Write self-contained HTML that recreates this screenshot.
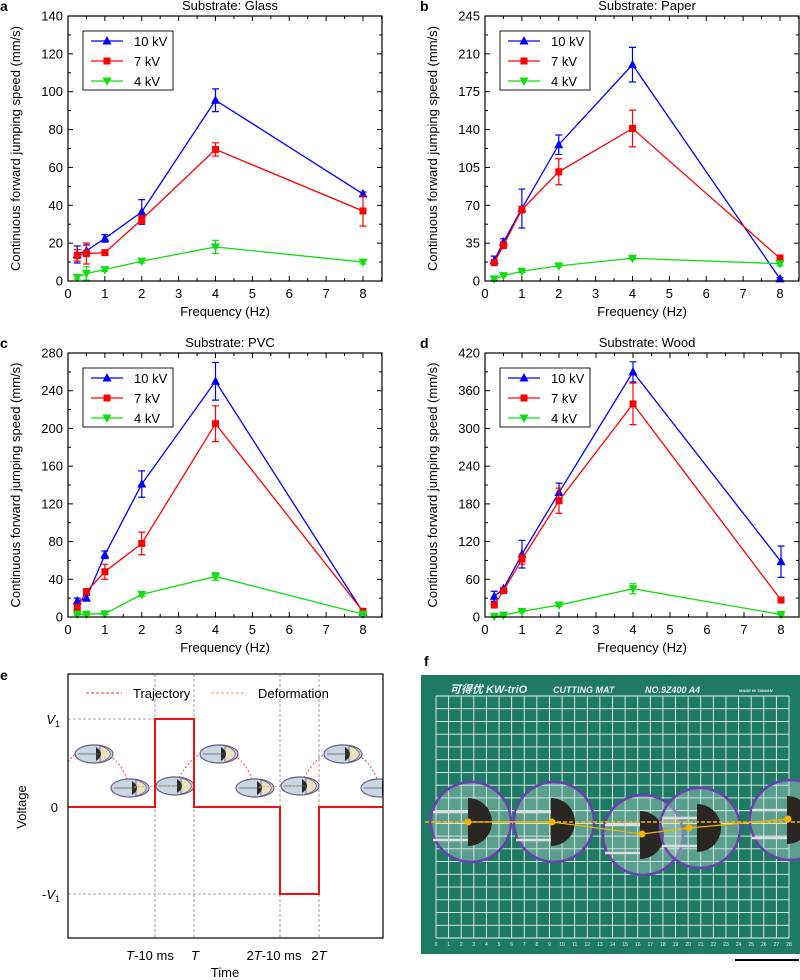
<!DOCTYPE html>
<html><head><meta charset="utf-8"><style>
html,body{margin:0;padding:0;background:#fff;}
svg{display:block;font-family:"Liberation Sans","Noto Sans CJK SC",sans-serif;}
</style></head><body>
<svg id="fig" width="800" height="980" viewBox="0 0 800 980" xmlns="http://www.w3.org/2000/svg">
<defs>
<clipPath id="clipE"><rect x="68" y="674" width="315" height="264"/></clipPath>
<clipPath id="clipF"><rect x="421" y="675" width="379" height="279"/></clipPath>
<g id="robot">
<ellipse cx="0" cy="0" rx="19" ry="9" fill="#c9d7e3" stroke="#6a5a8a" stroke-width="1.2"/>
<path d="M6,-8 A19,9 0 0 1 6,8 Z" fill="#e9e2c0" stroke="#6a5a8a" stroke-width="0.8"/>
<path d="M2,-7 Q12,0 2,7 Z" fill="#2a2a2a"/>
<line x1="-16" y1="0" x2="6" y2="0" stroke="#555" stroke-width="0.8"/>
</g>
</defs>
<g id="charts"></g>

<!-- Panel e -->
<g>
<text x="0" y="680" font-size="14" font-weight="bold">e</text>
<g stroke="#888" stroke-width="0.8" stroke-dasharray="3,2" fill="none">
<line x1="68" y1="719" x2="194" y2="719"/>
<line x1="68" y1="894" x2="319" y2="894"/>
<line x1="155" y1="674" x2="155" y2="938"/>
<line x1="194" y1="674" x2="194" y2="938"/>
<line x1="280" y1="674" x2="280" y2="938"/>
<line x1="319" y1="674" x2="319" y2="938"/>
</g>
<g clip-path="url(#clipE)">
<path d="M68,762 Q80,745 94,752 M94,752 Q120,752 130,788 M175,785 Q195,745 219,752 M219,752 Q245,752 255,788 M300,785 Q320,745 343,752 M343,752 Q370,752 380,788" stroke="#ee3333" stroke-width="0.9" stroke-dasharray="2,2" fill="none"/>
<use href="#robot" x="94" y="754"/>
<use href="#robot" x="219" y="754"/>
<use href="#robot" x="343" y="754"/>
<use href="#robot" x="130" y="788"/>
<use href="#robot" x="175" y="786"/>
<use href="#robot" x="255" y="788"/>
<use href="#robot" x="300" y="786"/>
<use href="#robot" x="380" y="788"/>
<line x1="134" y1="787" x2="175" y2="786" stroke="#f0a060" stroke-width="0.9" stroke-dasharray="2,2"/>
<line x1="259" y1="787" x2="300" y2="786" stroke="#f0a060" stroke-width="0.9" stroke-dasharray="2,2"/>
</g>
<polyline points="68,807 155,807 155,719 194,719 194,807 280,807 280,894 319,894 319,807 383,807" fill="none" stroke="#ee1111" stroke-width="2"/>
<rect x="68" y="674" width="315" height="264" fill="none" stroke="#000" stroke-width="1.2"/>
<g>
<line x1="86" y1="693" x2="122" y2="693" stroke="#ee3333" stroke-dasharray="3,2"/>
<text x="133" y="698" font-size="13">Trajectory</text>
<line x1="211" y1="693" x2="247" y2="693" stroke="#f0a060" stroke-dasharray="3,2"/>
<text x="258" y="698" font-size="13">Deformation</text>
</g>
<text x="60" y="724" font-size="13" text-anchor="end"><tspan font-style="italic">V</tspan><tspan font-size="9" dy="3">1</tspan></text>
<text x="58" y="812" font-size="13" text-anchor="end">0</text>
<text x="60" y="899" font-size="13" text-anchor="end">-<tspan font-style="italic">V</tspan><tspan font-size="9" dy="3">1</tspan></text>
<text transform="translate(26,807) rotate(-90)" font-size="13" text-anchor="middle">Voltage</text>
<g font-size="13" text-anchor="middle">
<text x="150" y="960"><tspan font-style="italic">T</tspan>-10 ms</text>
<text x="195" y="960" font-style="italic">T</text>
<text x="274" y="960">2<tspan font-style="italic">T</tspan>-10 ms</text>
<text x="319" y="960">2<tspan font-style="italic">T</tspan></text>
<text x="225" y="977">Time</text>
</g>
</g>

<!-- Panel f -->
<g>
<text x="424" y="666" font-size="14" font-weight="bold">f</text>
<g clip-path="url(#clipF)">
<rect x="421" y="675" width="379" height="279" fill="#1f7a64"/>
<g id="grid" stroke="#e8f2ee" stroke-width="0.9"></g>
<g font-size="9" font-style="italic" font-weight="bold" fill="#eef">
<text x="450" y="693" font-size="11">可得优 KW-triO</text>
<text x="553" y="693">CUTTING MAT</text>
<text x="645" y="693">NO.9Z400   A4</text>
<text x="739" y="692" font-size="4">MADE IN TAIWAN</text>
</g>
<g id="robotsF"></g>
<line x1="425" y1="822" x2="800" y2="822" stroke="#f4b400" stroke-width="1.4" stroke-dasharray="4,2"/>
<polyline points="468,822 552,822 642,834 689,828 788,819" fill="none" stroke="#f4b400" stroke-width="1.2"/>
<g fill="#f4b400"><circle cx="468" cy="822" r="3.5"/><circle cx="552" cy="822" r="3.5"/><circle cx="642" cy="834" r="3.5"/><circle cx="689" cy="828" r="3.5"/><circle cx="788" cy="819" r="3.5"/></g>
</g>
<line x1="735" y1="960" x2="799" y2="960" stroke="#000" stroke-width="2"/>
</g>
</svg>
<script>
const freqs=[0.25,0.5,1,2,4,8];
const seriesNames=["10 kV","7 kV","4 kV"];
const glass10=[14,16,22.5,36.5,95.5,46], glass10Err=[4.5,3,2,6.5,6,1];
const glass7=[13.5,14.5,15,32.5,69.5,37], glass7Err=[3,5.5,1,2,3.5,8];
const glass4=[2,4,6,10.5,18,10], glass4Err=[1,3.5,1,1,3.5,1];
const paper10=[19,36,67,126,200,2], paper10Err=[4,3,18,9,16,1];
const paper7=[17,33,66,101,141,21], paper7Err=[2,3,3,12,17,3];
const paper4=[2,5,9,14,21,16], paper4Err=[1,1,1,1,1,2];
const pvc10=[17,20,66,141,250,5], pvc10Err=[3,3,4,14,20,1];
const pvc7=[10,27,48,78,205,6], pvc7Err=[3,3,8,12,19,1];
const pvc4=[3,3,3.5,24,43,3], pvc4Err=[1,1,1,2,4,1];
const wood10=[33,45,100,198,390,88], wood10Err=[8,2,22,15,16,25];
const wood7=[19,42,92,185,339,27], wood7Err=[2,2,8,20,33,3];
const wood4=[1,3,9,19,45,4], wood4Err=[1,1,1,2,8,1];
const glassTicks=[0,20,40,60,80,100,120,140];
const paperTicks=[0,35,70,105,140,175,210,245];
const pvcTicks=[0,40,80,120,160,200,240,280];
const woodTicks=[0,60,120,180,240,300,360,420];
const xTicks=[0,1,2,3,4,5,6,7,8];

const NS="http://www.w3.org/2000/svg";
function mk(tag,attrs,parent){const e=document.createElementNS(NS,tag);for(const k in attrs)e.setAttribute(k,attrs[k]);parent.appendChild(e);return e;}
const colors=["#0000ff","#ff0000","#11dd11"];

const panels=[
 {letter:"a",title:"Substrate: Glass",x0:68,x8:363,right:382,top:16,bot:281,ticks:glassTicks,data:[[glass10,glass10Err],[glass7,glass7Err],[glass4,glass4Err]],lx:0},
 {letter:"b",title:"Substrate: Paper",x0:485,x8:780,right:799,top:16,bot:281,ticks:paperTicks,data:[[paper10,paper10Err],[paper7,paper7Err],[paper4,paper4Err]],lx:420},
 {letter:"c",title:"Substrate: PVC",x0:68,x8:363,right:382,top:353,bot:617,ticks:pvcTicks,data:[[pvc10,pvc10Err],[pvc7,pvc7Err],[pvc4,pvc4Err]],lx:0},
 {letter:"d",title:"Substrate: Wood",x0:485,x8:781,right:799,top:353,bot:617,ticks:woodTicks,data:[[wood10,wood10Err],[wood7,wood7Err],[wood4,wood4Err]],lx:420}
];

function marker(g,i,cx,cy){
  let m;
  if(i===0) m=mk("polygon",{points:`${cx},${cy-5} ${cx-4.5},${cy+3.5} ${cx+4.5},${cy+3.5}`,fill:colors[i]},g);
  else if(i===1) m=mk("rect",{x:cx-3.5,y:cy-3.5,width:7,height:7,fill:colors[i]},g);
  else m=mk("polygon",{points:`${cx},${cy+5} ${cx-4.5},${cy-3.5} ${cx+4.5},${cy-3.5}`,fill:colors[i]},g);
  return m;
}

const root=document.getElementById("charts");
panels.forEach(p=>{
  const g=mk("g",{},root);
  
  
  const ymax=p.ticks[p.ticks.length-1];
  const sx=v=>p.x0+v*(p.x8-p.x0)/8;
  const sy=v=>p.bot-v*(p.bot-p.top)/ymax;
  const lab=mk("text",{x:p.lx,y:p.top-5,"font-size":14,"font-weight":"bold"},g);lab.textContent=p.letter;
  
  
  const t=mk("text",{x:(p.x0+p.right)/2+5,y:p.top-6,"font-size":13,"text-anchor":"middle"},g);t.textContent=p.title;
  
  
  // ticks
  const step=p.ticks[1]-p.ticks[0];
  for(let k=0;k<p.ticks.length;k++){
    const v=p.ticks[k],y=sy(v);
    mk("line",{x1:p.x0,y1:y,x2:p.x0+5,y2:y,stroke:"#000"},g);
    mk("line",{x1:p.right,y1:y,x2:p.right-5,y2:y,stroke:"#000"},g);
    const tl=mk("text",{x:p.x0-5,y:y+4.5,"font-size":13,"text-anchor":"end"},g);tl.textContent=v;
    
    
    if(k<p.ticks.length-1){const ym=sy(v+step/2);
      mk("line",{x1:p.x0,y1:ym,x2:p.x0+3,y2:ym,stroke:"#000"},g);
      mk("line",{x1:p.right,y1:ym,x2:p.right-3,y2:ym,stroke:"#000"},g);}
  }
  xTicks.forEach(v=>{const x=sx(v);
    mk("line",{x1:x,y1:p.bot,x2:x,y2:p.bot-5,stroke:"#000"},g);
    mk("line",{x1:x,y1:p.top,x2:x,y2:p.top+5,stroke:"#000"},g);
    const xm=sx(v+0.5);
    if(xm<p.right){mk("line",{x1:xm,y1:p.bot,x2:xm,y2:p.bot-3,stroke:"#000"},g);mk("line",{x1:xm,y1:p.top,x2:xm,y2:p.top+3,stroke:"#000"},g);}
    const tl=mk("text",{x:x,y:p.bot+17,"font-size":13,"text-anchor":"middle"},g);tl.textContent=v;
    
    
  });
  const xt=mk("text",{x:(p.x0+p.right)/2,y:p.bot+35,"font-size":13,"text-anchor":"middle"},g);xt.textContent="Frequency (Hz)";
  
  
  const yt=mk("text",{transform:`translate(${p.x0-48},${(p.top+p.bot)/2}) rotate(-90)`,"font-size":13,"text-anchor":"middle"},g);yt.textContent="Continuous forward jumping speed (mm/s)";
  
  
  // series
  p.data.forEach((s,i)=>{
    const vals=s[0],errs=s[1];
    const sg=mk("g",{},g);
    
    
    mk("polyline",{points:freqs.map((f,j)=>sx(f)+","+sy(vals[j])).join(" "),fill:"none",stroke:colors[i],"stroke-width":1.3},sg);
    freqs.forEach((f,j)=>{
      const x=sx(f),y1=sy(vals[j]+errs[j]),y2=sy(Math.max(0,vals[j]-errs[j]));
      const eb=mk("path",{d:`M${x},${y1}V${y2}M${x-3.5},${y1}H${x+3.5}M${x-3.5},${y2}H${x+3.5}`,stroke:colors[i],"stroke-width":1.2,fill:"none"},sg);
      
      
      const m=marker(sg,i,x,sy(vals[j]));
      
      
    });
  });
  mk("rect",{x:p.x0,y:p.top,width:p.right-p.x0,height:p.bot-p.top,fill:"none",stroke:"#000","stroke-width":1.2},g);
  // legend
  const lg=mk("g",{},g);
  
  
  const lx=p.x0+15,ly=p.top+15;
  mk("rect",{x:lx,y:ly,width:90,height:59,fill:"#fff",stroke:"#000","stroke-width":0.9},lg);
  seriesNames.forEach((n,i)=>{
    const yy=ly+10+i*20;
    const le=mk("g",{},lg);
    
    
    mk("line",{x1:lx+8,y1:yy,x2:lx+40,y2:yy,stroke:colors[i],"stroke-width":1.3},le);
    marker(le,i,lx+24,yy);
    const tx=mk("text",{x:lx+51,y:yy+5,"font-size":13},le);tx.textContent=n;
  });
});

// panel f grid
const grid=document.getElementById("grid");
for(let c=0;c<=28;c++){const x=436+c*(789-436)/28;mk("line",{x1:x,y1:696,x2:x,y2:938},grid);}
for(let r=0;r<=19;r++){const y=696+r*(938-696)/19;mk("line",{x1:436,y1:y,x2:789,y2:y},grid);}
const gl=document.createElementNS(NS,"g");gl.setAttribute("font-size","5");gl.setAttribute("fill","#eef");grid.parentNode.appendChild(gl);
for(let c=0;c<=28;c++){const t=mk("text",{x:436+c*(789-436)/28,y:946,"text-anchor":"middle"},gl);t.textContent=c;}
const rf=document.getElementById("robotsF");
[[471,822],[554,822],[643,835],[700,828],[790,820]].forEach(([cx,cy])=>{
  mk("circle",{cx:cx,cy:cy,r:40,fill:"rgba(200,230,220,0.35)",stroke:"#6a3fb0","stroke-width":2.5},rf);
  mk("path",{d:`M${cx-3},${cy-24} A24,24 0 0 1 ${cx-3},${cy+24} Z`,fill:"#2a2622"},rf);
  mk("line",{x1:cx-38,y1:cy-10,x2:cx-3,y2:cy-10,stroke:"#ddd","stroke-width":2.5},rf);
  mk("line",{x1:cx-38,y1:cy+18,x2:cx-3,y2:cy+18,stroke:"#ddd","stroke-width":2.5},rf);
});
</script>
</body></html>
